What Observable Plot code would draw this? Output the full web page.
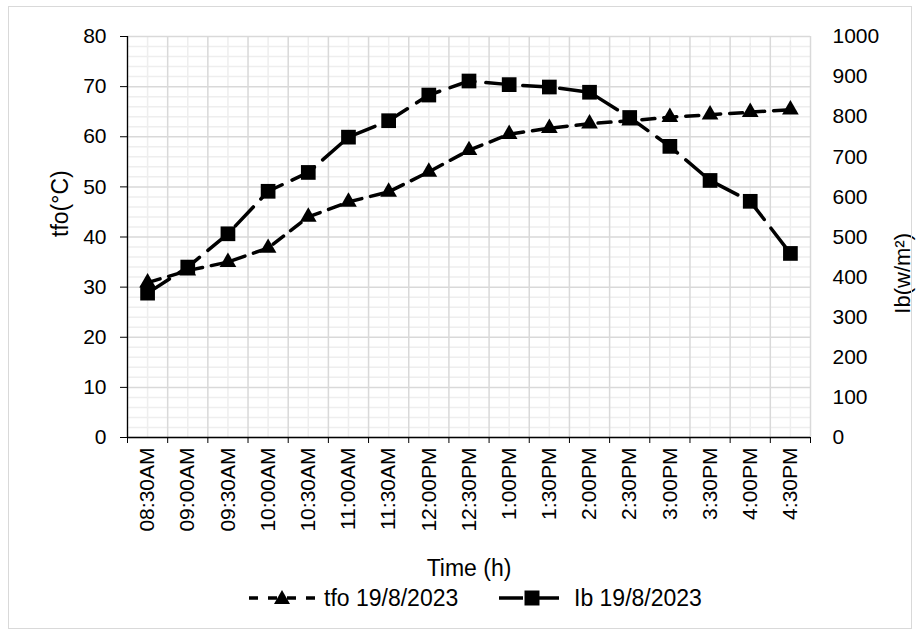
<!DOCTYPE html>
<html><head><meta charset="utf-8">
<script src="https://cdn.jsdelivr.net/npm/d3@7"></script>
<script src="https://cdn.jsdelivr.net/npm/@observablehq/plot@0.6"></script>
<style>
body{margin:0;background:#fff;font-family:"Liberation Sans",Arial,sans-serif;}
#wrap{position:relative;width:918px;height:634px;overflow:hidden;background:#fff;}
#border{position:absolute;left:8px;top:6px;width:904px;height:623px;border:1px solid #d9d9d9;box-sizing:border-box;pointer-events:none}
.leg{position:absolute;top:584px;height:28px;display:flex;align-items:center;font-size:23px;color:#000;white-space:nowrap}
.leg svg{display:block;margin-right:7px}
</style></head><body>
<div id="wrap"><div id="chart"></div><div id="border"></div><div id="legend"></div></div>
<script>
const times = ["08:30AM","09:00AM","09:30AM","10:00AM","10:30AM","11:00AM","11:30AM","12:00PM","12:30PM","1:00PM","1:30PM","2:00PM","2:30PM","3:00PM","3:30PM","4:00PM","4:30PM"];
const tfo = [30.9, 33.3, 35.0, 37.8, 44.0, 47.0, 49.0, 53.0, 57.3, 60.5, 61.7, 62.6, 63.2, 63.9, 64.4, 64.9, 65.4];
const ib = [360, 425, 508, 614, 661, 749, 790, 854, 889, 880, 874, 861, 798, 726, 641, 589, 459];
const leftTicks = [0, 10, 20, 30, 40, 50, 60, 70, 80];
const rightTicks = [0, 100, 200, 300, 400, 500, 600, 700, 800, 900, 1000];
const seriesNames = ["tfo 19/8/2023", "Ib 19/8/2023"];
const axisTitles = {left: "tfo(°C)", right: "Ib(w/m²)", bottom: "Time (h)"};

const LEFT_MAX = 80, RIGHT_MAX = 1000;
const k = LEFT_MAX / RIGHT_MAX;
const data = times.map((t, i) => ({i, t, tfo: tfo[i], ibS: ib[i] * k}));
const centers = times.map((_, i) => i);
const bounds = d3.range(-0.5, times.length, 1);
const minorY = d3.range(0, LEFT_MAX + 1, 2).filter(v => v % 10 !== 0);

const plot = Plot.plot({
  width: 918, height: 634,
  marginLeft: 127, marginRight: 108, marginTop: 36, marginBottom: 197,
  style: {fontFamily: "'Liberation Sans', Arial, sans-serif", fontSize: "21px", color: "#000", background: "transparent", overflow: "visible"},
  x: {type: "linear", domain: [-0.5, times.length - 0.5]},
  y: {domain: [0, LEFT_MAX]},
  marks: [
    Plot.gridY(minorY, {stroke: "#eeeeee", strokeOpacity: 1, strokeWidth: 1.5}),
    Plot.gridX(centers, {stroke: "#eeeeee", strokeOpacity: 1, strokeWidth: 1.5}),
    Plot.gridY(leftTicks, {stroke: "#d9d9d9", strokeOpacity: 1, strokeWidth: 1.5}),
    Plot.gridX(bounds, {stroke: "#d9d9d9", strokeOpacity: 1, strokeWidth: 1.5}),
    Plot.axisY(leftTicks, {anchor: "left", tickSize: 7, tickPadding: 14, label: null, fontSize: 21}),
    Plot.axisY(rightTicks.map(v => v * k), {anchor: "right", tickSize: 0, tickPadding: 22, label: null, fontSize: 21, tickFormat: d => String(Math.round(d / k)), textAnchor: "start"}),
    Plot.axisX(centers, {anchor: "bottom", tickSize: 0, tickPadding: 10, tickRotate: -90, label: null, fontSize: 21, tickFormat: i => times[i]}),
    Plot.axisX(bounds, {anchor: "bottom", tickSize: 6, tickFormat: () => "", label: null}),
    Plot.ruleX([-0.5], {stroke: "#000", strokeWidth: 1.3}),
    Plot.ruleY([0], {stroke: "#000", strokeWidth: 1.3}),
    Plot.line(data, {x: "i", y: "tfo", stroke: "#000", strokeWidth: 3.5, strokeDasharray: "13,9", strokeLinecap: "round"}),
    Plot.line(data, {x: "i", y: "ibS", stroke: "#000", strokeWidth: 3.5, strokeDasharray: "26,11", strokeLinecap: "round"}),
    Plot.dot(data, {x: "i", y: "tfo", symbol: "triangle", r: 6.2, fill: "#000", stroke: "none"}),
    Plot.dot(data, {x: "i", y: "ibS", symbol: "square", r: 8.3, fill: "#000", stroke: "none"}),
    Plot.text([axisTitles.left], {frameAnchor: "left", dx: -67, rotate: -90, fontSize: 23, fill: "#000"}),
    Plot.text([axisTitles.right], {frameAnchor: "right", dx: 92, dy: -4, rotate: -90, fontSize: 22, fill: "#000"}),
    Plot.text([axisTitles.bottom], {frameAnchor: "bottom", dy: 138, fontSize: 23, fill: "#000"})
  ]
});
document.getElementById("chart").appendChild(plot);

// legend
const leg = document.getElementById("legend");
const legLeft = [247, 497];
seriesNames.forEach((name, idx) => {
  const el = document.createElement("div");
  el.className = "leg";
  el.style.left = legLeft[idx] + "px";
  const svgNS = "http://www.w3.org/2000/svg";
  const s = document.createElementNS(svgNS, "svg");
  s.setAttribute("width", 70); s.setAttribute("height", 28);
  const ln = document.createElementNS(svgNS, "line");
  ln.setAttribute("x1", 2); ln.setAttribute("x2", 68); ln.setAttribute("y1", 14); ln.setAttribute("y2", 14);
  ln.setAttribute("stroke", "#000"); ln.setAttribute("stroke-width", 3.5);
  ln.setAttribute("stroke-dasharray", idx === 0 ? "9,10" : "24,12");
  s.appendChild(ln);
  const mk = document.createElementNS(svgNS, "path");
  mk.setAttribute("d", idx === 0 ? "M35,6 L43,20 L27,20 Z" : "M27.5,6.5 H42.5 V21.5 H27.5 Z");
  mk.setAttribute("fill", "#000");
  s.appendChild(mk);
  el.appendChild(s);
  const tx = document.createElement("span");
  tx.textContent = name;
  el.appendChild(tx);
  leg.appendChild(el);
});
</script>
</body></html>
